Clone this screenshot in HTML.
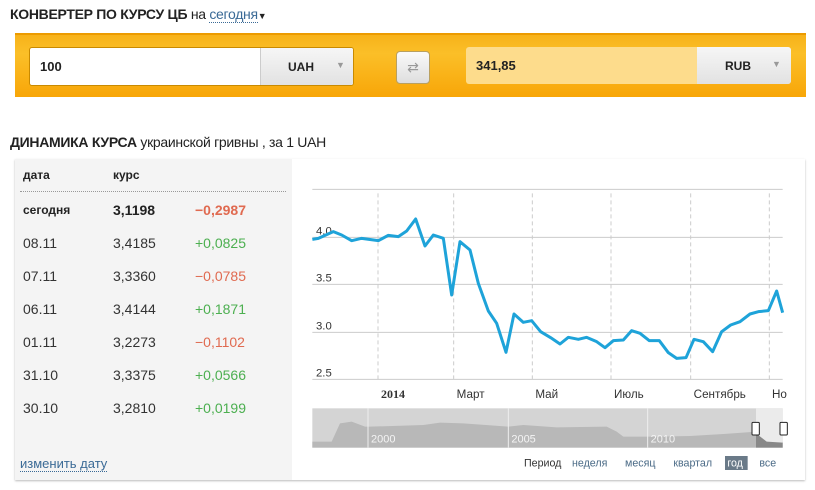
<!DOCTYPE html>
<html><head><meta charset="utf-8"><style>
body{margin:0;width:815px;height:490px;background:#fff;font-family:"Liberation Sans","DejaVu Sans",sans-serif;position:relative;overflow:hidden}
.a{position:absolute;white-space:nowrap}
.t{font-size:14px;color:#222;font-weight:bold;letter-spacing:-0.3px}
.row{font-size:14px;color:#333}
.g{color:#4caf50}.r{color:#e06a50}
</style></head><body>
<div class="a t" style="left:10px;top:6px">КОНВЕРТЕР ПО КУРСУ ЦБ <span style="font-weight:normal">на</span> <span style="color:#3a6a96;font-weight:normal;border-bottom:1px dotted #3a6a96">сегодня</span><span style="font-size:9px">▼</span></div>
<div class="a" style="left:15px;top:33px;width:791px;height:64px;background:linear-gradient(#f7b21a,#fbbf28 30%,#f8a608);border-top:2px solid #ec9b00;box-sizing:border-box"></div>
<div class="a" style="left:29px;top:47px;width:323px;height:37px;border:1px solid #c98a00;border-radius:3px;background:#fff;overflow:hidden">
 <div class="a" style="left:230px;top:0;width:93px;height:37px;background:linear-gradient(#f6f6f6,#e2e2e2);border-left:1px solid #ccc"></div>
 <div class="a" style="left:10px;top:11px;font-size:13px;font-weight:bold;color:#222">100</div>
 <div class="a" style="left:258px;top:12px;font-size:12px;font-weight:bold;color:#222">UAH</div>
 <div class="a" style="left:306px;top:12px;font-size:9px;color:#999">▼</div>
</div>
<div class="a" style="left:396px;top:51px;width:32px;height:31px;border:1px solid #b9a060;border-radius:4px;background:linear-gradient(#fafafa,#dedede);text-align:center;font-size:14px;line-height:30px;color:#999">⇄</div>
<div class="a" style="left:466px;top:47px;width:325px;height:37px;border-radius:3px;background:#fddc8c;overflow:hidden">
 <div class="a" style="left:231px;top:0;width:94px;height:37px;background:linear-gradient(#f6f6f6,#e2e2e2)"></div>
 <div class="a" style="left:10px;top:11px;font-size:13px;font-weight:bold;color:#222">341,85</div>
 <div class="a" style="left:259px;top:12px;font-size:12px;font-weight:bold;color:#222">RUB</div>
 <div class="a" style="left:306px;top:12px;font-size:9px;color:#999">▼</div>
</div>
<div class="a t" style="left:10px;top:134px">ДИНАМИКА КУРСА <span style="font-weight:normal">украинской гривны , за 1 UAH</span></div>
<div class="a" style="left:15px;top:159px;width:790px;height:321px;background:#f4f4f4;box-shadow:0 1px 2px #bbb"></div>
<div class="a" style="left:292px;top:159px;width:513px;height:321px;background:#fff"></div>
<div class="a" style="left:20px;top:191px;width:266px;border-top:1px dotted #999"></div>
<div class="a row" style="left:23px;top:168px;font-weight:bold;font-size:12px;color:#222">дата</div>
<div class="a row" style="left:113px;top:168px;font-weight:bold;font-size:12px;color:#222">курс</div>
<div class="a row" style="left:23px;top:203px;font-weight:bold;font-size:12px;color:#222">сегодня</div>
<div class="a row" style="left:113px;top:202px;font-weight:bold;color:#222">3,1198</div>
<div class="a row r" style="left:195px;top:202px;font-weight:bold">−0,2987</div>
<div class="a row" style="left:23px;top:235px">08.11</div><div class="a row" style="left:113px;top:235px">3,4185</div><div class="a row g" style="left:195px;top:235px">+0,0825</div>
<div class="a row" style="left:23px;top:268px">07.11</div><div class="a row" style="left:113px;top:268px">3,3360</div><div class="a row r" style="left:195px;top:268px">−0,0785</div>
<div class="a row" style="left:23px;top:301px">06.11</div><div class="a row" style="left:113px;top:301px">3,4144</div><div class="a row g" style="left:195px;top:301px">+0,1871</div>
<div class="a row" style="left:23px;top:334px">01.11</div><div class="a row" style="left:113px;top:334px">3,2273</div><div class="a row r" style="left:195px;top:334px">−0,1102</div>
<div class="a row" style="left:23px;top:367px">31.10</div><div class="a row" style="left:113px;top:367px">3,3375</div><div class="a row g" style="left:195px;top:367px">+0,0566</div>
<div class="a row" style="left:23px;top:400px">30.10</div><div class="a row" style="left:113px;top:400px">3,2810</div><div class="a row g" style="left:195px;top:400px">+0,0199</div>
<div class="a" style="left:20px;top:456px;font-size:13px;color:#3a6a96;border-bottom:1px dotted #3a6a96">изменить дату</div>
<svg class="a" style="left:290px;top:160px" width="525" height="330" viewBox="0 0 1575 990">
<g stroke="#ccc" stroke-width="3">
<line x1="67" y1="88" x2="1478" y2="88"/><line x1="67" y1="232" x2="1478" y2="232"/><line x1="67" y1="373" x2="1478" y2="373"/><line x1="67" y1="517" x2="1478" y2="517"/><line x1="67" y1="658" x2="1478" y2="658"/>
</g>
<g stroke="#ccc" stroke-width="3" stroke-dasharray="12,9">
<line x1="264" y1="100" x2="264" y2="658"/><line x1="491" y1="100" x2="491" y2="658"/><line x1="727" y1="100" x2="727" y2="658"/><line x1="963" y1="100" x2="963" y2="658"/><line x1="1202" y1="100" x2="1202" y2="658"/><line x1="1438" y1="100" x2="1438" y2="658"/>
</g>
<g font-size="34" fill="#333" font-family="Liberation Sans, sans-serif">
<text x="78" y="224">4.0</text><text x="78" y="365">3.5</text><text x="78" y="509">3.0</text><text x="78" y="650">2.5</text>
<text x="273" y="714" font-weight="bold" font-family="Liberation Serif, serif" font-size="36">2014</text>
<text x="500" y="714" font-size="35">Март</text><text x="736" y="714" font-size="35">Май</text><text x="972" y="714" font-size="35">Июль</text><text x="1211" y="714" font-size="35">Сентябрь</text><text x="1446" y="714" font-size="35">Но</text>
</g>
<polyline fill="none" stroke="#1ea3d9" stroke-width="9" stroke-linejoin="round" points="67,238 85,235 130,215 155,225 185,242 215,235 265,242 295,226 325,230 350,213 377,177 405,258 430,225 460,235 485,405 510,245 540,270 565,370 595,453 620,490 648,577 672,462 700,487 725,482 752,515 782,533 810,552 835,532 865,538 890,532 920,545 945,563 970,542 1000,540 1025,512 1050,520 1078,542 1108,542 1135,578 1160,595 1188,593 1212,538 1240,545 1268,575 1295,515 1322,495 1350,485 1380,462 1405,455 1435,452 1460,393 1478,458"/>
<rect x="67" y="745" width="1411" height="118" fill="#d4d4d4"/>
<path d="M67,845 L125,845 L150,790 L185,785 L225,800 L240,800 L400,795 L450,788 L520,790 L655,800 L700,795 L800,802 L950,800 L980,815 L1000,830 L1100,830 L1200,828 L1300,822 L1400,815 L1430,840 L1478,845 L1478,863 L67,863Z" fill="#b8b8b8"/>
<rect x="1398" y="745" width="80" height="118" fill="#ebebeb"/>
<path d="M1398,820 L1430,845 L1478,848 L1478,863 L1398,863Z" fill="#888"/>
<g stroke="#eee" stroke-width="3"><line x1="234" y1="745" x2="234" y2="863"/><line x1="655" y1="745" x2="655" y2="863"/><line x1="1073" y1="745" x2="1073" y2="863"/></g>
<g font-size="33" fill="#f4f4f4"><text x="243" y="848">2000</text><text x="664" y="848">2005</text><text x="1082" y="848">2010</text></g>
<rect x="1386" y="787" width="22" height="38" rx="3" fill="#fff" stroke="#222" stroke-width="3"/>
<rect x="1470" y="787" width="22" height="38" rx="3" fill="#fff" stroke="#222" stroke-width="3"/>
<g font-size="32" fill="#4a6a86"><text x="702" y="920" fill="#333">Период</text><text x="846" y="920">неделя</text><text x="1005" y="920">месяц</text><text x="1150" y="920">квартал</text>
<rect x="1305" y="888" width="68" height="42" fill="#6a7a88"/><text x="1312" y="920" fill="#fff">год</text><text x="1408" y="920">все</text></g>
</svg>
</body></html>
